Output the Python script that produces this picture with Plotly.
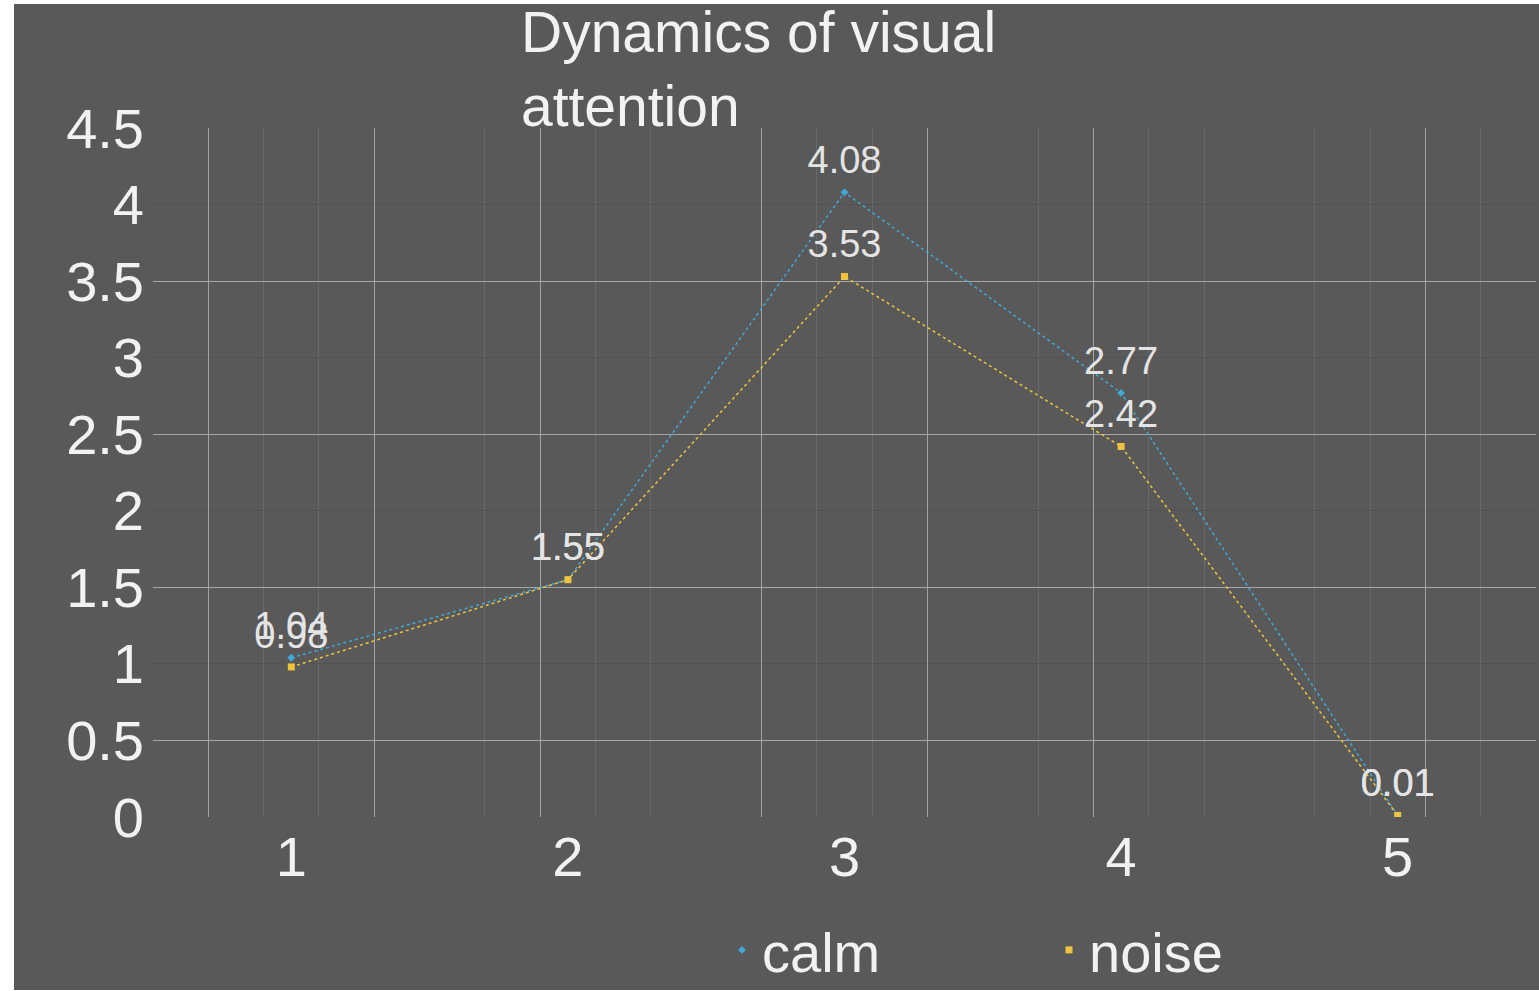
import plotly.graph_objects as go

# Session number and mean attention scores for each condition
sessions = [1, 2, 3, 4, 5]
calm = [1.04, 1.55, 4.08, 2.77, 0.01]
noise = [0.98, 1.55, 3.53, 2.42, 0.01]
y_ticks = [0, 0.5, 1, 1.5, 2, 2.5, 3, 3.5, 4, 4.5]
y_tick_text = ["0", "0.5", "1", "1.5", "2", "2.5", "3", "3.5", "4", "4.5"]

W, H = 1539, 991
ML, MR, MT, MB = 153, 3, 128, 174
PW, PH = W - ML - MR, H - MT - MB

BG = "#595959"
CALM_C = "#41a8d8"
NOISE_C = "#efc33c"
FONT = "Liberation Sans, Arial, sans-serif"


def px_x(px):
    return (px - ML) / PW


def px_y(py):
    return (H - MB - py) / PH


fig = go.Figure()

# helper trace that activates the overlaid grid axes
fig.add_trace(go.Scatter(x=[], y=[], xaxis="x2", yaxis="y2",
                         showlegend=False, hoverinfo="skip"))

for name, vals, color, sym, size in [
    ("calm", calm, CALM_C, "diamond", 6),
    ("noise", noise, NOISE_C, "square", 7),
]:
    # dotted connecting line with value labels (clear markers keep the
    # labels lifted off the points)
    fig.add_trace(go.Scatter(
        x=sessions, y=vals, mode="lines+markers+text", name=name,
        line=dict(color=color, width=1.5, dash="dot"),
        marker=dict(size=14, color="rgba(0,0,0,0)", line=dict(width=0)),
        text=[f"{v:g}" for v in vals], textposition="top center",
        textfont=dict(family=FONT, size=38, color="#e4e4e4"),
        showlegend=False, legendgroup=name, hoverinfo="skip",
    ))
    # point markers (also the legend entry)
    fig.add_trace(go.Scatter(
        x=sessions, y=vals, mode="markers", name=name,
        marker=dict(color=color, symbol=sym, size=size, line=dict(width=0)),
        legendgroup=name,
    ))

fig.update_layout(
    width=W, height=H,
    margin=dict(l=ML, r=MR, t=MT, b=MB, pad=0, autoexpand=False),
    paper_bgcolor="white",
    plot_bgcolor="rgba(0,0,0,0)",
    font=dict(family=FONT, color="#f2f2f2", size=56),
    title=dict(
        text="Dynamics of visual<br>attention",
        font=dict(family=FONT, size=57, color="#f2f2f2"),
        xref="paper", x=px_x(521), xanchor="left",
        yref="container", y=1 - 52 / H, yanchor="top",
        pad=dict(t=0, b=0, l=0, r=0),
    ),
    xaxis=dict(
        range=[0.5, 5.5], tickmode="array", tickvals=sessions,
        ticktext=[str(s) for s in sessions],
        showgrid=False, zeroline=False, showline=False, ticks="",
        tickfont=dict(size=56, color="#f2f2f2"),
        ticklabelstandoff=2,
    ),
    yaxis=dict(
        range=[0, 4.5], tickmode="array", tickvals=y_ticks,
        ticktext=y_tick_text,
        showgrid=False, zeroline=False, showline=False, ticks="",
        tickfont=dict(size=56, color="#f2f2f2"),
        ticklabelstandoff=8,
    ),
    xaxis2=dict(
        overlaying="x", anchor="y2", range=[0, 25],
        tickmode="array", tickvals=[1, 4, 7, 11, 14, 17, 23],
        showticklabels=False, ticks="", zeroline=False, showline=False,
        showgrid=True, gridcolor="#a2a2a2", gridwidth=1,
        minor=dict(tickmode="array",
                   tickvals=[0, 2, 3, 6, 8, 9, 12, 13, 16, 18, 19, 21, 22, 24],
                   showgrid=True, gridcolor="#686868", gridwidth=1, ticks=""),
    ),
    yaxis2=dict(
        overlaying="y", anchor="x2", range=[0, 4.5],
        tickmode="array", tickvals=[0.5, 1.5, 2.5, 3.5, 4.5],
        showticklabels=False, ticks="", zeroline=False, showline=False,
        showgrid=True, gridcolor="#a6a6a6", gridwidth=1,
        minor=dict(tickmode="array", tickvals=[1, 2, 3, 4],
                   showgrid=True, gridcolor="#525252", gridwidth=1, ticks=""),
    ),
    legend=dict(
        orientation="h",
        xref="container", x=722 / W, xanchor="left",
        yref="container", y=1 - 950 / H, yanchor="middle",
        font=dict(family=FONT, size=56, color="#f2f2f2"),
        bgcolor="rgba(0,0,0,0)", entrywidth=282, itemwidth=30,
    ),
    shapes=[dict(
        type="rect", xref="paper", yref="paper", layer="below",
        x0=px_x(14), x1=px_x(W), y0=px_y(990), y1=px_y(4),
        fillcolor=BG, line=dict(width=0),
    )],
    showlegend=True,
)

fig.write_html("out.html")
